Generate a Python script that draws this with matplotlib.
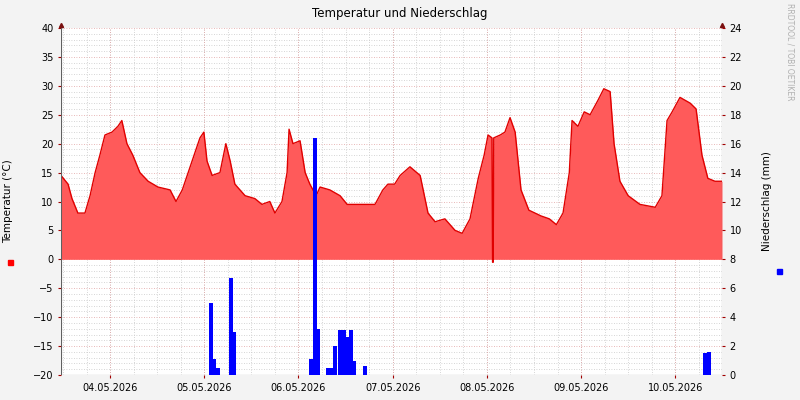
import matplotlib
matplotlib.use("Agg")
import matplotlib.pyplot as plt

# hours since 03.05.2026 11:30, temperature (°C)
temp_h = [0, 1.8, 2.8, 4.3, 6.1, 7.4, 8.7, 9.9, 11.2, 13, 14.5, 15.5, 16.8, 18.3, 20.1, 22.2,
          24.7, 27.8, 29.3, 30.9, 32.9, 34.4, 35.4, 36.4, 37.2, 38.5, 40.5, 42, 43.1, 44.3,
          46.9, 49.4, 51.2, 53.2, 54.5, 56.3, 57.6, 58.1, 59.1, 60.9, 62.2, 63.4, 65, 66,
          68.5, 71.1, 72.9, 76.2, 80, 82, 83.3, 85, 86.4, 88.9, 91.5, 93.5, 95.3, 97.8,
          100.4, 102.2, 104.2, 106.3, 107.8, 108.8, 109.8, 109.95, 110.1, 110.25, 111.9,
          113.1, 114.4, 115.7, 117.2, 119.2, 122.3, 124.4, 126.2, 127.9, 129.5, 130.2,
          131.7, 133.3, 134.8, 136.8, 138.3, 139.9, 140.9, 142.4, 144.5, 147.5, 151.4,
          153.1, 154.4, 155.7, 157.7, 160.3, 161.8, 163.3, 164.8, 166.6, 168.4]
temp_c = [14.5, 13, 10.5, 8, 8, 11, 15, 18, 21.5, 22, 23, 24, 20, 18, 15, 13.5,
          12.5, 12, 10, 12, 16, 19, 21, 22, 17, 14.5, 15, 20, 17, 13,
          11, 10.5, 9.5, 10, 8, 10, 15, 22.5, 20, 20.5, 15, 13, 11, 12.5,
          12, 11, 9.5, 9.5, 9.5, 12, 13, 13, 14.5, 16, 14.5, 8, 6.5, 7,
          5, 4.5, 7, 14, 18, 21.5, 21, -0.5, -0.5, 21, 21.5,
          22, 24.5, 22, 12, 8.5, 7.5, 7, 6, 8, 15, 24,
          23, 25.5, 25, 27.5, 29.5, 29, 20, 13.5, 11, 9.5, 9,
          11, 24, 25.5, 28, 27, 26, 18, 14, 13.5, 13.5]

# precipitation (mm)
rain_h = [38.2, 39.0, 40.0, 43.3, 44.1, 63.7, 64.7, 65.5, 68.0, 68.8, 69.8, 71.1, 72.1,
          73.1, 73.9, 74.7, 77.5, 164.1, 165.1]
rain_mm = [5.0, 1.1, 0.5, 6.7, 3.0, 1.1, 16.4, 3.2, 0.5, 0.5, 2.0, 3.1, 3.1,
           2.6, 3.1, 1.0, 0.6, 1.5, 1.6]

day_labels = ["04.05.2026", "05.05.2026", "06.05.2026", "07.05.2026",
              "08.05.2026", "09.05.2026", "10.05.2026"]
day_ticks = [12.5 + 24 * i for i in range(len(day_labels))]

fs = 7
fig = plt.figure(figsize=(8, 4), dpi=100, facecolor="#f3f3f3")
ax = fig.add_axes([61 / 800, 25 / 400, 661 / 800, 347 / 400])
ax.set_facecolor("white")
ax.set_xlim(0, 168.4)
ax.set_ylim(-20, 40)

for y in range(-20, 41):
    if y % 5:
        ax.axhline(y, color="#c8c8c8", lw=0.6, ls=(0, (1, 2)), zorder=0)
    else:
        ax.axhline(y, color="#e0a0a0", lw=0.6, ls=(0, (1, 2)), zorder=0)
for x in range(0, 170, 6):
    ax.axvline(x + 0.5, color="#c8c8c8", lw=0.6, ls=(0, (1, 2)), zorder=0)
for x in day_ticks:
    ax.axvline(x, color="#e0a0a0", lw=0.6, ls=(0, (1, 2)), zorder=0)

ax.fill_between(temp_h, temp_c, 0, color="#ff5a5a", lw=0, zorder=2)
ax.plot(temp_h, temp_c, color="#e00000", lw=1, zorder=3)

ax2 = ax.twinx()
ax2.set_ylim(0, 24)
ax2.bar(rain_h, rain_mm, width=0.9, color="#0000ff", zorder=4)

ax.set_xticks(day_ticks)
ax.set_xticklabels(day_labels, fontsize=fs)
ax.set_yticks(range(-20, 41, 5))
ax.tick_params(labelsize=fs, length=2, color="#a00000")
ax2.set_yticks(range(0, 25, 2))
ax2.tick_params(labelsize=fs, length=2, color="#a00000")
for a in (ax, ax2):
    for s in a.spines.values():
        s.set_visible(False)
ax.axvline(0, color="#606060", lw=0.8, zorder=5)
ax.axvline(168.4, color="#606060", lw=0.8, zorder=5)
ax.axhline(-20, color="#606060", lw=0.8, zorder=5)
ax.plot([0], [40.5], marker="^", color="#7a1010", ms=3, clip_on=False)
ax.plot([168.4], [40.5], marker="^", color="#7a1010", ms=3, clip_on=False)

ax.set_ylabel("Temperatur (°C)", fontsize=fs + 0.5, labelpad=14)
ax2.set_ylabel("Niederschlag (mm)", fontsize=fs + 0.5, labelpad=14)
fig.text(0.5, 0.965, "Temperatur und Niederschlag", ha="center", va="center", fontsize=fs + 1.5)
fig.text(0.988, 0.87, "RRDTOOL / TOBI OETIKER", rotation=270, ha="center", va="center",
         fontsize=5.5, color="#b0b0b0")
fig.patches.append(plt.Rectangle((8 / 800, 135 / 400), 5 / 800, 5 / 400, color="#ff0000",
                                 transform=fig.transFigure))
fig.patches.append(plt.Rectangle((777 / 800, 126 / 400), 5 / 800, 5 / 400, color="#0000ff",
                                 transform=fig.transFigure))

fig.savefig("out.png", dpi=100, facecolor=fig.get_facecolor())
